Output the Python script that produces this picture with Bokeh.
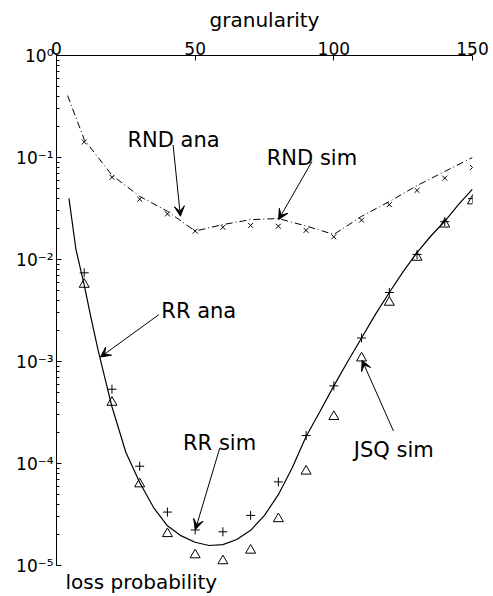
from bokeh.plotting import figure
from bokeh.models import (Range1d, FixedTicker, CustomJSTickFormatter, Label,
                          Arrow, VeeHead, Title)
from bokeh.embed import file_html
from bokeh.resources import INLINE

# ---------------- data ----------------
sim_x = [10, 20, 30, 40, 50, 60, 70, 80, 90, 100, 110, 120, 130, 140, 150]
rnd_sim = [0.142, 0.064, 0.039, 0.028, 0.019, 0.0207, 0.0216, 0.0212, 0.0193,
           0.0167, 0.0243, 0.0345, 0.0476, 0.0628, 0.0798]
rr_sim = [7.4e-3, 5.35e-4, 9.4e-5, 3.34e-5, 2.23e-5, 2.14e-5, 3.1e-5, 6.6e-5,
          1.88e-4, 5.77e-4, 1.7e-3, 4.75e-3, 0.0112, 0.0235, 0.0395]
jsq_sim = [5.7e-3, 3.97e-4, 6.3e-5, 2.05e-5, 1.27e-5, 1.11e-5, 1.41e-5, 2.87e-5,
           8.4e-5, 2.88e-4, 1.08e-3, 3.8e-3, 0.0105, 0.0222, 0.0375]

rnd_ana_x = [4, 10, 20, 30, 40, 50, 60, 70, 80, 90, 100, 110, 120, 130, 140, 150]
rnd_ana = [0.405, 0.15, 0.067, 0.0416, 0.0297, 0.019, 0.022, 0.0246, 0.0252,
           0.0213, 0.0176, 0.0265, 0.037, 0.053, 0.073, 0.1]

rr_ana_x = [4.5, 7, 10, 12.5, 15, 17.5, 20, 25, 30, 35, 40, 45, 50, 55, 60, 65,
            70, 75, 80, 85, 90, 95, 100, 105, 110, 115, 120, 125, 130, 135, 140,
            145, 150]
rr_ana = [0.0398, 0.0126, 5.6e-3, 2.63e-3, 1.29e-3, 6.8e-4, 3.6e-4, 1.29e-4,
          6.5e-5, 3.7e-5, 2.45e-5, 1.95e-5, 1.69e-5, 1.57e-5, 1.6e-5, 1.8e-5,
          2.21e-5, 3.1e-5, 4.95e-5, 9.1e-5, 1.84e-4, 3.24e-4, 5.77e-4, 1.0e-3,
          1.7e-3, 2.9e-3, 4.75e-3, 7.6e-3, 0.0117, 0.017, 0.0237, 0.0347, 0.049]

x_ticks = [0, 50, 100, 150]
y_ticks = [1e-5, 1e-4, 1e-3, 1e-2, 1e-1, 1]

# annotations: text, text x, text baseline y, arrow tail (x, y), arrow tip (x, y)
ann_text = ["RND ana", "RND sim", "RR ana", "RR sim", "JSQ sim"]
ann_x = [42.2, 92.1, 51.3, 58.8, 121.6]
ann_y = [10**-0.828, 10**-1.004, 10**-2.502, 10**-3.801, 10**-3.869]
arr_x0 = [42.05, 92.1, 36.9, 58.85, 121.5]
arr_y0 = [10**-0.877, 10**-1.040, 10**-2.541, 10**-3.850, 10**-3.681]
arr_x1 = [44.68, 80.1, 15.86, 50.1, 110.2]
arr_y1 = [10**-1.576, 10**-1.608, 10**-2.956, 10**-4.646, 10**-2.989]

FONT = "DejaVu Sans"

p = figure(width=493, height=595, output_backend="svg", toolbar_location=None,
           x_range=Range1d(0, 150), y_range=Range1d(1e-5, 1),
           y_axis_type="log", x_axis_location="above",
           min_border_left=56, min_border_top=55, min_border_right=21,
           min_border_bottom=28)
p.outline_line_color = None
p.grid.visible = False
p.background_fill_color = "white"
p.border_fill_color = "white"

xa = p.xaxis[0]
xa.ticker = FixedTicker(ticks=x_ticks, minor_ticks=[])
xa.axis_label = "granularity"
xa.axis_label_text_font = FONT
xa.axis_label_text_font_size = "20px"
xa.axis_label_text_font_style = "normal"
xa.axis_label_text_color = "black"
xa.axis_label_standoff = 7
xa.major_label_text_font = FONT
xa.major_label_text_font_size = "17px"
xa.major_label_text_color = "black"
xa.major_label_standoff = 1
xa.major_tick_in = 5
xa.major_tick_out = 0
xa.minor_tick_in = 0
xa.minor_tick_out = 0
xa.axis_line_color = "black"
xa.major_tick_line_color = "black"

ya = p.yaxis[0]
ya.ticker = FixedTicker(ticks=y_ticks,
                        minor_ticks=[m * 10.0**e for e in range(-5, 0) for m in range(2, 10)])
ya.formatter = CustomJSTickFormatter(code="""
const e = Math.round(Math.log10(tick));
const sup = {"-": "\u207b", "0": "\u2070", "1": "\u00b9", "2": "\u00b2", "3": "\u00b3",
             "4": "\u2074", "5": "\u2075"};
return "10" + String(e).split("").map(c => sup[c]).join("");
""")
ya.major_label_text_font = FONT
ya.major_label_text_font_size = "17px"
ya.major_label_text_color = "black"
ya.major_label_standoff = 3
ya.major_tick_in = 5
ya.major_tick_out = 0
ya.minor_tick_in = 3
ya.minor_tick_out = 0
ya.axis_line_color = "black"
ya.major_tick_line_color = "black"
ya.minor_tick_line_color = "black"

# analytical curves
p.line(rnd_ana_x, rnd_ana, line_color="black", line_width=1, line_dash="7 3 1 3")
p.line(rr_ana_x, rr_ana, line_color="black", line_width=1.2)

# simulation markers
p.scatter(sim_x, rnd_sim, marker="x", size=7, line_color="black", line_width=1)
p.scatter(sim_x, rr_sim, marker="cross", size=9, line_color="black", line_width=1)
p.scatter(sim_x, jsq_sim, marker="triangle", size=10, line_color="black",
          fill_color=None, line_width=1)

# annotations
for t, tx, ty, x0, y0, x1, y1 in zip(ann_text, ann_x, ann_y, arr_x0, arr_y0, arr_x1, arr_y1):
    p.add_layout(Label(x=tx, y=ty, text=t, text_font=FONT, text_font_size="21px",
                       text_align="center", text_baseline="alphabetic", text_color="black"))
    p.add_layout(Arrow(end=VeeHead(size=10, fill_color="black", line_color="black", line_width=1),
                       x_start=x0, y_start=y0, x_end=x1, y_end=y1,
                       line_color="black", line_width=1))

p.add_layout(Title(text="loss probability", text_font=FONT, text_font_size="20px",
                   text_font_style="normal", text_color="black", align="left",
                   offset=9, standoff=4), "below")

open("out.html", "w").write(file_html(p, INLINE))
